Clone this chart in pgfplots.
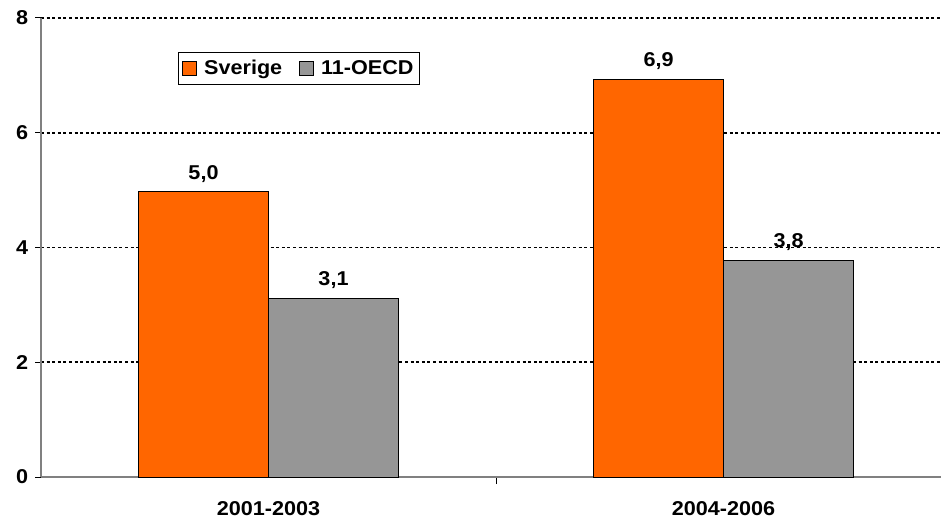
\documentclass[border=0pt]{standalone}
\usepackage{fontspec}
\setmainfont{Liberation Sans}[FakeStretch=1.08]
\usepackage{pgfplots}
\pgfplotsset{compat=1.18}

\definecolor{sverige}{HTML}{FF6600}
\definecolor{oecd}{HTML}{969696}
\definecolor{axisgray}{HTML}{808080}

\begin{document}
\fontsize{20bp}{24bp}\selectfont
\begin{tikzpicture}
\begin{axis}[
  scale only axis,
  width=900bp, height=459bp,
  at={(0,0)}, anchor=south west,
  ymin=0, ymax=8,
  xmin=-0.5, xmax=1.478,
  ytick={0,2,4,6,8},
  xtick={0,1},
  xticklabels={2001-2003,2004-2006},
  minor xtick={0.5},
  axis x line=bottom,
  axis y line=left,
  axis line style={-, draw=axisgray, line width=1.3bp},
  tick align=outside,
  major tick length=6bp,
  minor tick length=7bp,
  major x tick style={draw=none},
  minor x tick style={draw=black, line width=1bp},
  ytick style={draw=black, line width=1bp},
  ymajorgrids,
  grid style={draw=black, line width=1.6bp, dash pattern=on 3bp off 2.6bp},
  /pgf/number format/assume math mode=true,
  /pgf/number format/use comma,
  /pgf/number format/fixed,
  /pgf/number format/fixed zerofill,
  /pgf/number format/precision=1,
  yticklabel style={font=\bfseries, /pgf/number format/precision=0, /pgf/number format/fixed zerofill=false},
  xticklabel style={font=\bfseries, yshift=-12bp},
  ybar=0pt,
  bar width=130bp,
  nodes near coords,
  nodes near coords style={font=\bfseries, anchor=south, inner sep=0pt, yshift=9bp},
  legend columns=2,
  legend style={
    at={(137/900, 1-34/459)}, anchor=north west,
    draw=black, line width=0.8bp, font=\bfseries,
    inner xsep=4bp, inner ysep=5.5bp,
    /tikz/every odd column/.append style={column sep=5bp},
    /tikz/every even column/.append style={column sep=15bp},
  },
  legend image code/.code={\draw[#1, draw=black, line width=0.8bp] (0bp,-7bp) rectangle (14bp,7bp);},
]
\addplot[fill=sverige, draw=black, line width=1bp] coordinates {(0,4.97) (1,6.93)};
\addlegendentry{Sverige}
\addplot[fill=oecd, draw=black, line width=1bp] coordinates {(0,3.11) (1,3.78)};
\addlegendentry{11-OECD}
\end{axis}
\pgfresetboundingbox
\useasboundingbox (-41bp,-45bp) rectangle (900bp,477bp);
\end{tikzpicture}
\end{document}
